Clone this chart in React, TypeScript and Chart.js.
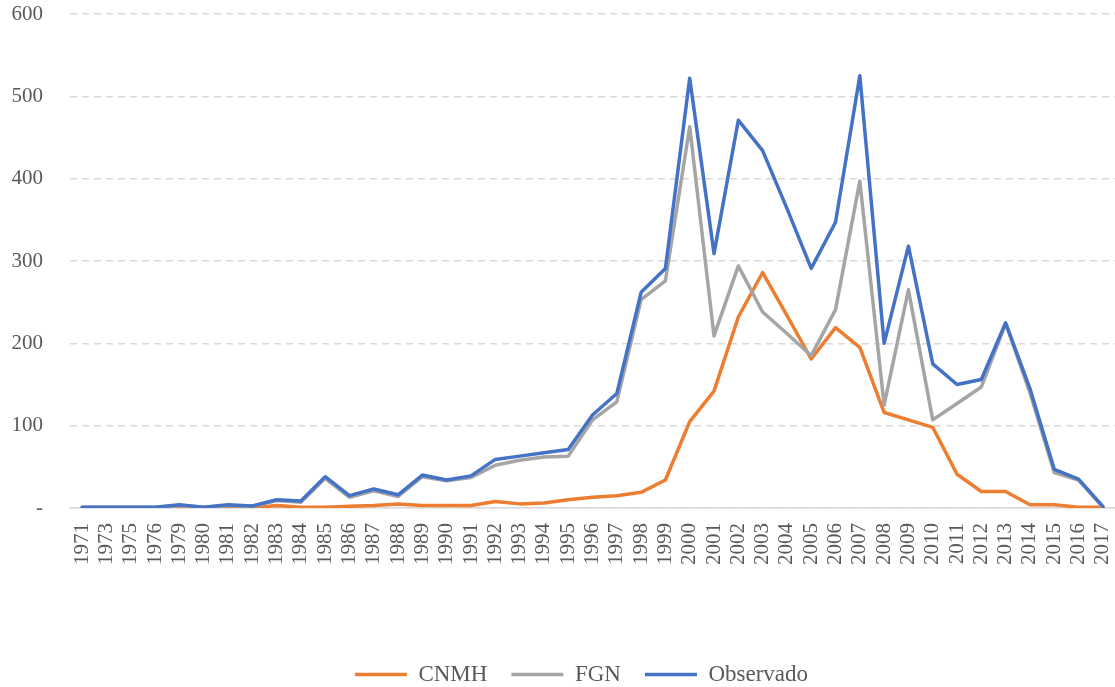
import React, { useEffect, useRef } from "react";
import { Chart, registerables } from "chart.js";

Chart.register(...registerables);

const years = [
  "1971", "1973", "1975", "1976", "1979", "1980", "1981", "1982", "1983", "1984",
  "1985", "1986", "1987", "1988", "1989", "1990", "1991", "1992", "1993", "1994",
  "1995", "1996", "1997", "1998", "1999", "2000", "2001", "2002", "2003", "2004",
  "2005", "2006", "2007", "2008", "2009", "2010", "2011", "2012", "2013", "2014",
  "2015", "2016", "2017",
];

const cnmh = [
  0, 0, 0, 0, 0.5, 0, 1, 0, 3, 1,
  1, 2, 3, 5, 3, 3, 3, 8, 5, 6,
  10, 13, 15, 19, 34, 105, 142, 232, 286, 234,
  181, 219, 195, 116, 107, 98, 41, 20, 20, 4,
  4, 1, 1,
];

const fgn = [
  1, 1, 1, 1, 3, 1, 3, 2, 9, 7,
  36, 13, 21, 14, 38, 33, 37, 52, 58, 62,
  63, 107, 129, 253, 276, 463, 209, 294, 238, 212,
  185, 241, 397, 125, 265, 107, 127, 147, 224, 140,
  43, 34, 1,
];

const observado = [
  1, 1, 1, 1, 4, 1, 4, 2.5, 10, 8.5,
  38, 15, 23, 16, 40, 34, 39, 59, 63, 67,
  71, 113, 139, 262, 291, 522, 309, 471, 434, 364,
  291, 347, 525, 200, 318, 175, 150, 156, 225, 145,
  47, 35, 2,
];

const yTicks = [0, 100, 200, 300, 400, 500, 600];

const FONT = "'Liberation Serif', 'Times New Roman', serif";
const TEXT = "#595959";
const GRID = "#D9D9D9";

const legendShift = {
  id: "legendShift",
  afterLayout(chart: any) {
    const l = chart.legend;
    if (l) {
      l.left -= 11;
      l.right -= 11;
    }
  },
};

export default function App() {
  const canvasRef = useRef<HTMLCanvasElement | null>(null);

  useEffect(() => {
    const canvas = canvasRef.current;
    if (!canvas) return;
    const mk = (label: string, data: number[], color: string, order: number) => ({
      label,
      data,
      borderColor: color,
      backgroundColor: color,
      borderWidth: 3.5,
      pointRadius: 0,
      pointHoverRadius: 0,
      tension: 0,
      fill: false,
      borderJoinStyle: "round" as const,
      borderCapStyle: "round" as const,
      order,
    });
    const chart = new Chart(canvas, {
      type: "line",
      data: {
        labels: years,
        datasets: [
          mk("CNMH", cnmh, "#ED7D31", 3),
          mk("FGN", fgn, "#A5A5A5", 2),
          mk("Observado", observado, "#4472C4", 1),
        ],
      },
      plugins: [legendShift],
      options: {
        animation: false,
        responsive: true,
        maintainAspectRatio: false,
        layout: { padding: { top: 14, right: 0, left: 0, bottom: -9 } },
        plugins: {
          tooltip: { enabled: false },
          legend: {
            position: "bottom",
            fullSize: false,
            labels: {
              usePointStyle: true,
              pointStyle: "line",
              pointStyleWidth: 52,
              padding: 24,
              color: TEXT,
              font: { family: FONT, size: 23 },
              sort: (a: any, b: any) => a.datasetIndex - b.datasetIndex,
            },
          },
        },
        scales: {
          x: {
            offset: true,
            grid: { display: false, drawTicks: false },
            border: { display: true, color: GRID, width: 1.5 },
            ticks: {
              autoSkip: false,
              maxRotation: 90,
              minRotation: 90,
              padding: 15,
              color: TEXT,
              font: { family: FONT, size: 21 },
            },
            afterFit: (scale: any) => {
              scale.height = 131;
              scale.paddingLeft = 0;
              scale.paddingRight = 0;
            },
          },
          y: {
            min: 0,
            max: 600,
            afterBuildTicks: (scale: any) => {
              scale.ticks = yTicks.map((v) => ({ value: v }));
            },
            grid: { color: GRID, lineWidth: 1.5, drawTicks: false },
            border: { display: false, dash: [7, 5] },
            ticks: {
              padding: 27,
              color: TEXT,
              font: { family: FONT, size: 21 },
              callback: (v: any) => (Number(v) === 0 ? "-" : String(v)),
            },
            afterFit: (scale: any) => {
              scale.width = 70;
              scale.paddingTop = 0;
              scale.paddingBottom = 0;
            },
          },
        },
      },
    });
    return () => chart.destroy();
  }, []);

  return (
    <div style={{ position: "fixed", left: 0, top: 0, width: 1115, height: 687, background: "#fff" }}>
      <canvas ref={canvasRef} />
    </div>
  );
}
